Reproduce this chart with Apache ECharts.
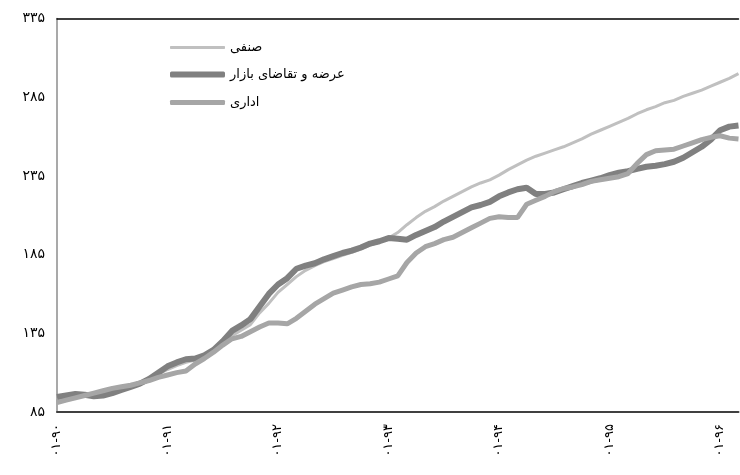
<!DOCTYPE html>
<html>
<head>
<meta charset="utf-8">
<script src="https://cdn.jsdelivr.net/npm/echarts@6/dist/echarts.min.js"></script>
<style>
html,body{margin:0;padding:0;background:#fff;}
#c{width:740px;height:475px;}
</style>
</head>
<body>
<div id="c"></div>
<script>
// Series names
var seriesNames = ['صنفی', 'عرضه و تقاضای بازار', 'اداری'];

// Monthly categories 1390-01 .. 1396-03 (75 months)
var years = ['۹۰','۹۱','۹۲','۹۳','۹۴','۹۵','۹۶'];
var months = ['۰۱','۰۲','۰۳','۰۴','۰۵','۰۶','۰۷','۰۸','۰۹','۱۰','۱۱','۱۲'];
var categories = [];
for (var yi = 0; yi < years.length; yi++) {
  for (var mi = 0; mi < months.length; mi++) {
    if (categories.length < 75) categories.push(months[mi] + '-' + years[yi]);
  }
}

var sanfi = [93,94,95,95.5,96,97,98.5,100,101.5,103,105.5,109,112,114.5,116.5,118,120.5,124,128.5,133.5,
  137,140.5,148,154,161,166,171,175,178,180.5,182.5,184.5,186.5,188.5,191,193,195.5,199,204,208.5,
  212.5,215.5,219,222,225,228,230.5,232.5,235.5,239,242,245,247.5,249.5,251.5,253.5,256,258.5,261.5,264,
  266.5,269,271.5,274.5,277,279,281.5,283,285.5,287.5,289.5,292,294.5,297,300];

var market = [94.5,95.5,96.5,96,95,95.5,97,99,101,103,106,110,114,116.5,118.5,119,121,124.5,130,136.5,
  140,144,152,160,166,170,176,178,179.5,182,184,186,187.5,189.5,192,193.5,195.5,195,194.5,197.5,
  200,202.5,206,209,212,215,216.5,218.5,222,224.5,226.5,227.5,223.5,223.5,224.5,226.5,228.5,230.5,232,233.5,
  235.5,237,238,239.5,240.8,241.5,242.5,244,246.5,250,253.5,258,264,266.3,267];

var admin = [91,92.5,94,95.5,97,98.5,100,101,102,103.5,105,107,108.5,110,111,115.5,119,123,127.5,131.5,
  133,136,139,141.5,141.5,141,144.5,149,153.5,157,160.5,162.5,164.5,166,166.5,167.5,169.5,171.5,180,186,
  190,192,194.5,196,199,202,205,208,209,208.5,208.5,217,219.5,222,225,227,228,229.5,231.5,232.5,
  233.5,234.5,236.5,243,248.5,251,251.5,252,254,256,258,259.5,260.5,259,258.5];

var yMin = 85, yMax = 335, yStep = 50;

function toFa(s) {
  var d = '۰۱۲۳۴۵۶۷۸۹';
  return String(s).replace(/[0-9]/g, function (c) { return d[+c]; });
}

var colors = ['#c0c0c0', '#808080', '#a6a6a6'];
var widths = [3, 6, 5];
var legendRowsCenter = [45, 72, 100];

var font = 'DejaVu Sans';
var legends = seriesNames.map(function (n, i) {
  return {
    orient: 'vertical',
    left: 165,
    top: legendRowsCenter[i] - 9,
    itemWidth: 55,
    itemHeight: widths[i],
    icon: 'roundRect',
    textStyle: {fontFamily: font, fontSize: 13, color: '#000', padding: [0, 0, 0, 0]},
    itemStyle: {color: colors[i]},
    data: [n]
  };
});

var chart = echarts.init(document.getElementById('c'), null, {renderer: 'canvas'});
chart.setOption({
  animation: false,
  backgroundColor: '#fff',
  textStyle: {fontFamily: font},
  grid: {left: 57, right: 1.5, top: 18.5, bottom: 63, containLabel: false},
  legend: legends,
  xAxis: [{
    type: 'category',
    data: categories,
    boundaryGap: false,
    axisLine: {lineStyle: {color: '#404040', width: 2}},
    axisTick: {show: false},
    axisLabel: {
      interval: function (idx) { return idx % 12 === 0; },
      rotate: 90,
      margin: 12,
      fontSize: 13,
      color: '#000',
      fontFamily: font
    },
    splitLine: {show: false}
  }, {
    type: 'category',
    data: categories,
    boundaryGap: false,
    position: 'top',
    axisLine: {lineStyle: {color: '#000', width: 1.5}},
    axisTick: {show: false},
    axisLabel: {show: false},
    splitLine: {show: false}
  }],
  yAxis: {
    type: 'value',
    min: yMin,
    max: yMax,
    interval: yStep,
    axisLine: {show: true, lineStyle: {color: '#8c8c8c', width: 1.5}},
    axisTick: {show: false},
    splitLine: {show: false},
    axisLabel: {
      margin: 12,
      fontSize: 14,
      color: '#000',
      fontFamily: font,
      formatter: function (v) { return toFa(v); }
    }
  },
  series: seriesNames.map(function (n, i) {
    return {
      name: n,
      type: 'line',
      data: [sanfi, market, admin][i],
      showSymbol: false,
      symbol: 'none',
      lineStyle: {color: colors[i], width: widths[i]},
      itemStyle: {color: colors[i]}
    };
  })
});
</script>
</body>
</html>
